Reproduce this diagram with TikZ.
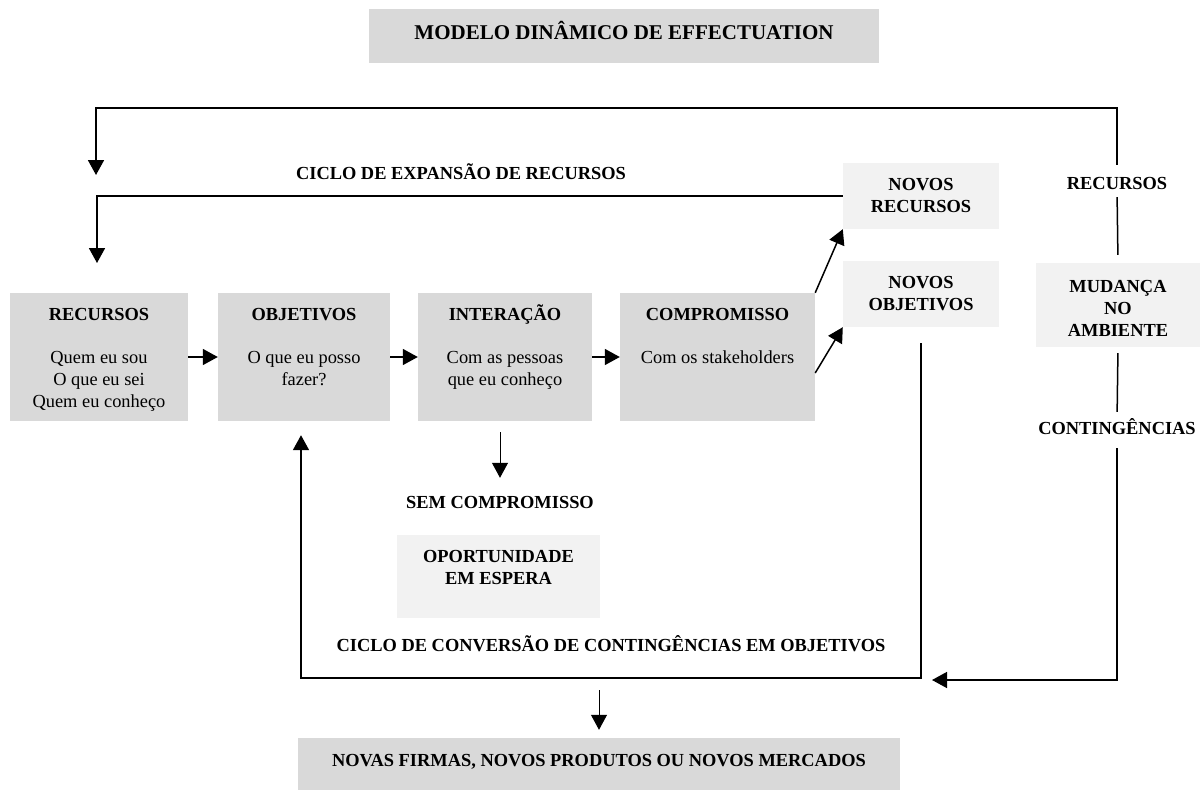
\documentclass[tikz,border=0pt]{standalone}
\usepackage{fontspec}
\setmainfont{Liberation Serif}
\usepackage{tikz}
\usetikzlibrary{arrows.meta}
\definecolor{BoxGray}{HTML}{D9D9D9}
\definecolor{BoxLight}{HTML}{F2F2F2}

\begin{document}
\begin{tikzpicture}[
  x=1pt, y=-1pt,
  box/.style={fill=BoxGray, inner sep=0pt},
  lightbox/.style={fill=BoxLight, inner sep=0pt},
  txt/.style={anchor=north, align=center, inner sep=0pt, font=\fontsize{18.4}{22}\selectfont},
  boldtxt/.style={txt, font=\fontsize{18.4}{22}\selectfont\bfseries},
  tag/.style={inner sep=0pt, text height=12pt, text depth=0pt, font=\fontsize{18.4}{22}\selectfont\bfseries},
  tip/.style={-{Triangle[length=15pt,width=16pt]}},
  loopline/.style={line width=1.8pt},
  link/.style={line width=1.5pt},
  thin/.style={line width=1pt}
]
\useasboundingbox (0,0) rectangle (1200,790);
\node[box, minimum width=510pt, minimum height=54pt] (title) at (624,36) {};
\node[txt, font=\fontsize{21}{25}\selectfont\bfseries] (title-txt) at ([yshift=-12.5pt]title.north) {\strut MODELO DINÂMICO DE EFFECTUATION};
\node[box, minimum width=178pt, minimum height=128pt] (rec) at (99,357) {};
\node[box, minimum width=172pt, minimum height=128pt] (obj) at (304,357) {};
\node[box, minimum width=174pt, minimum height=128pt] (int) at (505,357) {};
\node[box, minimum width=195pt, minimum height=128pt] (comp) at (717.5,357) {};
\node[lightbox, minimum width=156pt, minimum height=66pt] (novrec) at (921,196) {};
\node[lightbox, minimum width=156pt, minimum height=66pt] (novobj) at (921,294) {};
\node[lightbox, minimum width=164pt, minimum height=84pt] (mud) at (1118,305) {};
\node[lightbox, minimum width=203pt, minimum height=83pt] (opo) at (498.5,576.5) {};
\node[box, minimum width=602pt, minimum height=52pt] (out) at (599,764) {};
\node[txt] (rec-txt) at ([yshift=-11.7pt]rec.north) {\strut\textbf{RECURSOS}\\[21pt]Quem eu sou\\O que eu sei\\Quem eu conheço};
\node[txt] (obj-txt) at ([yshift=-11.7pt]obj.north) {\strut\textbf{OBJETIVOS}\\[21pt]O que eu posso\\fazer?};
\node[txt] (int-txt) at ([yshift=-11.7pt]int.north) {\strut\textbf{INTERAÇÃO}\\[21pt]Com as pessoas\\que eu conheço};
\node[txt] (comp-txt) at ([yshift=-11.7pt]comp.north) {\strut\textbf{COMPROMISSO}\\[21pt]Com os stakeholders};
\node[boldtxt] (novrec-txt) at ([yshift=-11.7pt]novrec.north) {\strut NOVOS\\RECURSOS};
\node[boldtxt] (novobj-txt) at ([yshift=-11.7pt]novobj.north) {\strut NOVOS\\OBJETIVOS};
\node[boldtxt] (mud-txt) at ([yshift=-13.7pt]mud.north) {\strut MUDANÇA\\NO\\AMBIENTE};
\node[boldtxt] (opo-txt) at ([yshift=-11.7pt]opo.north) {\strut OPORTUNIDADE\\EM ESPERA};
\node[boldtxt] (out-txt) at ([yshift=-12.7pt]out.north) {\strut NOVAS FIRMAS, NOVOS PRODUTOS OU NOVOS MERCADOS};
\node[tag] (explbl) at (461,173) {CICLO DE EXPANSÃO DE RECURSOS};
\node[tag] (reclbl) at (1117,183) {RECURSOS};
\node[tag] (contlbl) at (1117,428) {CONTINGÊNCIAS};
\node[tag] (semlbl) at (500,502) {SEM COMPROMISSO};
\node[tag] (convlbl) at (611,645) {CICLO DE CONVERSÃO DE CONTINGÊNCIAS EM OBJETIVOS};
\coordinate (top-left) at (96,108);
\coordinate (top-end) at (96,175);
\coordinate (exp-end) at (97,263);
\coordinate (conv-corner) at (301,678);
\coordinate (cont-end) at (932,680);
\coordinate (out-start) at (599,690);
\draw[link, tip] (rec) -- (obj);
\draw[link, tip] (obj) -- (int);
\draw[link, tip] (int) -- (comp);
\draw[link, tip] (comp.north east) -- (novrec.south west);
\draw[link, tip] ([yshift=-16pt]comp.east) -- (novobj.south west);
\draw[loopline, tip] (novrec.west) -| (exp-end);
\draw[link, shorten <=8pt, shorten >=8pt] (mud.north) -- (reclbl.south);
\draw[loopline, tip, shorten <=12pt] (reclbl.north) |- (top-left) -- (top-end);
\draw[link, shorten <=6pt, shorten >=10pt] (mud.south) -- (contlbl.north);
\draw[link, tip, shorten <=14pt] (contlbl.south) |- (cont-end);
\draw[loopline, tip, shorten <=16pt, shorten >=14pt] (novobj.south) |- (conv-corner) -- (conv-corner |- obj.south);
\draw[thin, tip, shorten <=11pt, shorten >=18pt] (int.south -| semlbl) -- (semlbl.north);
\draw[thin, tip, shorten >=8pt] (out-start) -- (out.north);
\end{tikzpicture}
\end{document}
